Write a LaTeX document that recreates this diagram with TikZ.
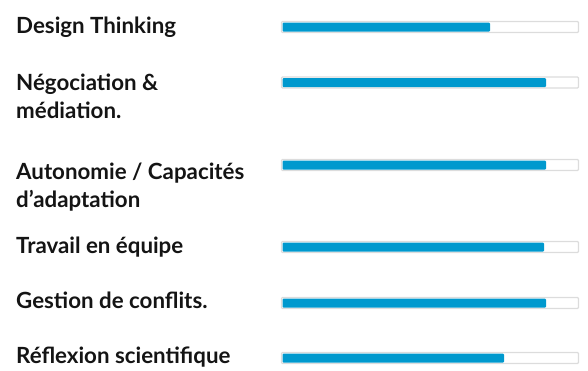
\documentclass[tikz,border=0pt]{standalone}
\usepackage{fontspec}
\setmainfont{Lato}
\definecolor{barblue}{HTML}{0099CE}
\definecolor{barframe}{HTML}{DCDCDC}
\definecolor{ink}{HTML}{141414}

\tikzset{
  skill/.style={anchor=base west, inner sep=0pt, align=left, text=ink,
    font=\fontsize{22.3}{28}\selectfont\bfseries},
  track/.style={draw=barframe, line width=1.3pt, fill=white, rounded corners=1pt},
  level/.style={fill=barblue, rounded corners=1pt}
}

\begin{document}
\begin{tikzpicture}[x=1pt,y=-1pt]
\useasboundingbox (0,0) rectangle (588,370);

% two-line labels sit on their last line
\node[skill] (design) at (16,33) {Design Thinking};
\node[skill] (nego) at (16,118) {Négociation \&\\médiation.};
\node[skill] (auto) at (16,207) {Autonomie / Capacités\\d’adaptation};
\node[skill] (equipe) at (16,253) {Travail en équipe};
\node[skill] (conflits) at (16,308) {Gestion de conflits.};
\node[skill] (science) at (16,363) {Réflexion scientifique};

% bars: track, then level
\draw[track] (281.5,21.5) rectangle (578.5,32.5);
\fill[level] (282.5,22.6) rectangle (490,31.6);
\draw[track] (281.5,77) rectangle (578.5,88);
\fill[level] (282.5,78.1) rectangle (546,87.1);
\draw[track] (281.5,159.5) rectangle (578.5,170.5);
\fill[level] (282.5,160.6) rectangle (546,169.6);
\draw[track] (281.5,241.5) rectangle (578.5,252.5);
\fill[level] (282.5,242.6) rectangle (544,251.6);
\draw[track] (281.5,297.5) rectangle (578.5,308.5);
\fill[level] (282.5,298.6) rectangle (546,307.6);
\draw[track] (281.5,352.5) rectangle (578.5,363.5);
\fill[level] (282.5,353.6) rectangle (504,362.6);
\end{tikzpicture}
\end{document}
